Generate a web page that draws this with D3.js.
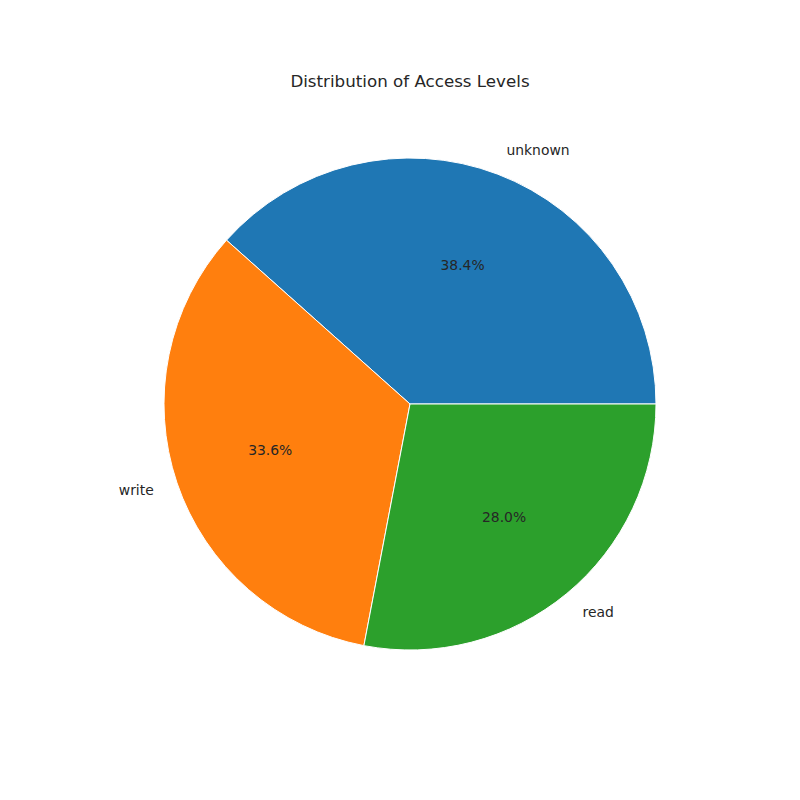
<!DOCTYPE html>
<html><head><meta charset="utf-8">
<script src="https://cdn.jsdelivr.net/npm/d3@7"></script>
<style>body{margin:0;background:#fff}text{font-family:"DejaVu Sans",sans-serif;fill:#262626}</style>
</head><body><div id="chart"></div>
<script>
const labels = ['unknown', 'write', 'read'];
const values = [38.4, 33.6, 28.0];
const colors = ['#1f77b4', '#ff7f0e', '#2ca02c'];

const w = 800, h = 800, cx = 410, cy = 404, r = 246;
const svg = d3.select('#chart').append('svg').attr('width', w).attr('height', h);

svg.append('text').attr('x', 410).attr('y', 82).attr('text-anchor', 'middle')
  .attr('dominant-baseline', 'middle').style('font-size', '16.7px').text('Distribution of Access Levels');

// matplotlib-style: start at 3 o'clock, counterclockwise
let pie = d3.pie().sort(null).startAngle(Math.PI / 2).endAngle(Math.PI / 2 - 2 * Math.PI);
let arcs = pie(values);
let arc = d3.arc().innerRadius(0).outerRadius(r);
let total = d3.sum(values);

let g = svg.append('g').attr('transform', `translate(${cx},${cy})`);
g.selectAll('path').data(arcs).enter().append('path')
  .attr('d', arc).attr('fill', (d, i) => colors[i]).attr('stroke', '#fff').attr('stroke-width', 1);

function pos(d, k) {
  let a = (d.startAngle + d.endAngle) / 2;
  return [k * r * Math.sin(a), -k * r * Math.cos(a)];
}
g.selectAll('.lab').data(arcs).enter().append('text')
  .attr('x', d => pos(d, 1.1)[0]).attr('y', d => pos(d, 1.1)[1])
  .attr('text-anchor', d => pos(d, 1.1)[0] >= 0 ? 'start' : 'end')
  .attr('dominant-baseline', 'middle').style('font-size', '13.9px')
  .text((d, i) => labels[i]);
g.selectAll('.pct').data(arcs).enter().append('text')
  .attr('x', d => pos(d, 0.6)[0]).attr('y', d => pos(d, 0.6)[1])
  .attr('text-anchor', 'middle').attr('dominant-baseline', 'middle').style('font-size', '13.9px')
  .text(d => (d.value / total * 100).toFixed(1) + '%');
</script></body></html>
